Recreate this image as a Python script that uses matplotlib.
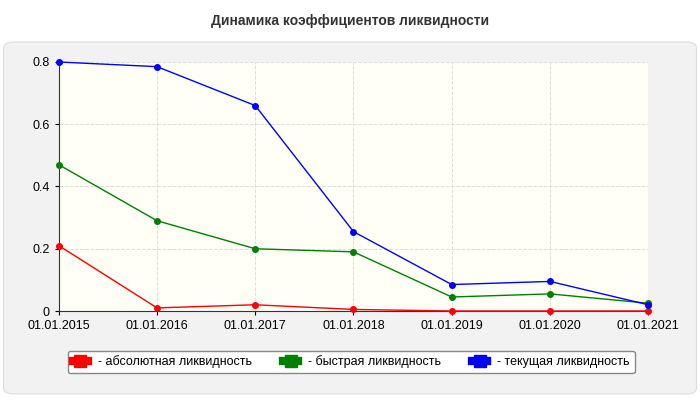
import matplotlib

matplotlib.use("Agg")
import matplotlib.pyplot as plt
from matplotlib.patches import FancyBboxPatch

dates = ["01.01.2015", "01.01.2016", "01.01.2017", "01.01.2018",
         "01.01.2019", "01.01.2020", "01.01.2021"]
absolute = [0.21, 0.01, 0.02, 0.005, 0.0, 0.0, 0.0]
quick = [0.47, 0.29, 0.20, 0.19, 0.045, 0.055, 0.025]
current = [0.80, 0.785, 0.66, 0.255, 0.085, 0.095, 0.02]
series = [
    ("- абсолютная ликвидность", absolute, "#ff0000"),
    ("- быстрая ликвидность", quick, "#008000"),
    ("- текущая ликвидность", current, "#0000ff"),
]

plt.rcParams["font.family"] = ["Liberation Sans", "DejaVu Sans"]
fig = plt.figure(figsize=(7, 4), dpi=100)
fig.patch.set_facecolor("white")

# rounded grey panel behind the chart
panel = FancyBboxPatch((0.005, 0.015), 0.99, 0.88, boxstyle="round,pad=0,rounding_size=0.015",
                       transform=fig.transFigure, facecolor="#f2f2f2", edgecolor="#dddddd",
                       linewidth=0.8, zorder=-10)
fig.patches.append(panel)
fig.text(0.5, 0.948, "Динамика коэффициентов ликвидности", ha="center", va="center",
         fontsize=10, fontweight="bold", color="#333333")

ax = fig.add_axes([0.084, 0.2225, 0.842, 0.6225])
ax.set_facecolor("#fffff6")
x = list(range(len(dates)))
for label, vals, color in series:
    ax.plot(x, vals, color=color, linewidth=1, marker="o", markersize=4,
            label=label, clip_on=False, zorder=3)

ax.set_xlim(0, len(dates) - 1)
ax.set_ylim(0, 0.8)
ax.set_xticks(x)
ax.set_xticklabels(dates)
ax.set_yticks([0, 0.2, 0.4, 0.6, 0.8])
ax.set_yticklabels(["0", "0.2", "0.4", "0.6", "0.8"])
ax.tick_params(labelsize=9, colors="#000000", length=3)
ax.grid(color="#dddddd", linestyle="--", linewidth=0.7)
for side in ["top", "right"]:
    ax.spines[side].set_visible(False)
ax.spines["left"].set_color("#333333")
ax.spines["bottom"].set_color("#333333")

leg = fig.legend(loc="center", bbox_to_anchor=(0.502, 0.095), ncol=3, fontsize=9,
                 handlelength=1.2, handleheight=0.8, columnspacing=2.5, fancybox=True,
                 edgecolor="#888888", framealpha=1)
for h, (_, _, color) in zip(leg.legend_handles, series):
    h.set_marker("s")
    h.set_markersize(8)
    h.set_linewidth(6)

fig.savefig("out.png", dpi=100)
